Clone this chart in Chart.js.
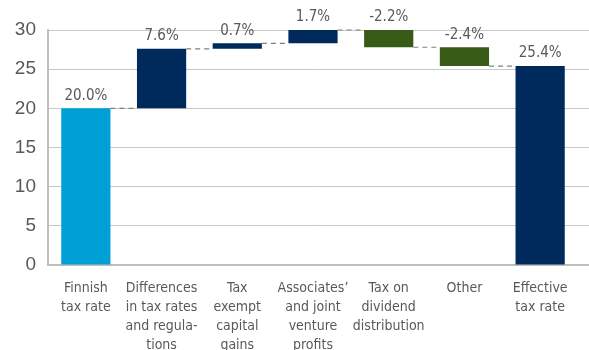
<!DOCTYPE html>
<html>
<head>
<meta charset="utf-8">
<script src="https://cdn.jsdelivr.net/npm/chart.js@4"></script>
<style>
  html, body { margin: 0; padding: 0; background: #fff; }
  #wrap { width: 589px; height: 350px; }
</style>
</head>
<body>
<div id="wrap"><canvas id="taxChart"></canvas></div>
<script>
const categories = [
  ['Finnish', 'tax rate'],
  ['Differences', 'in tax rates', 'and regula-', 'tions'],
  ['Tax', 'exempt', 'capital', 'gains'],
  ['Associates\u2019', 'and joint', 'venture', 'profits'],
  ['Tax on', 'dividend', 'distribution'],
  ['Other'],
  ['Effective', 'tax rate']
];
const changes = [20.0, 7.6, 0.7, 1.7, -2.2, -2.4, 25.4];
const isTotal = [true, false, false, false, false, false, true];
const yTicks = [0, 5, 10, 15, 20, 25, 30];

const colTotalStart = '#00a0d7';
const colUp = '#002a5c';
const colDown = '#375b17';
const font = '"Liberation Sans Narrow", "DejaVu Sans Condensed", "Liberation Sans", sans-serif';

// floating ranges from the running total
let running = 0;
const ranges = changes.map((v, i) => {
  if (isTotal[i]) { running = v; return [0, v]; }
  const start = running;
  running = +(running + v).toFixed(1);
  return [start, running];
});
const colors = changes.map((v, i) => i === 0 ? colTotalStart : (isTotal[i] ? colUp : (v < 0 ? colDown : colUp)));

const align = (p, w) => Math.round(p - w / 2) + w / 2;

const waterfallExtras = {
  id: 'waterfallExtras',
  beforeDatasetsDraw(chart) {
    const { ctx, chartArea, scales: { y } } = chart;
    // let the horizontal gridlines run to the canvas edge
    ctx.save();
    yTicks.forEach(t => {
      const w = t === 0 ? 2 : 1;
      ctx.strokeStyle = t === 0 ? '#bfbfbf' : '#c8c8c8';
      ctx.lineWidth = w;
      const py = align(y.getPixelForValue(t), w);
      ctx.beginPath();
      ctx.moveTo(chartArea.right - 1, py);
      ctx.lineTo(chart.width, py);
      ctx.stroke();
    });
    ctx.restore();
  },
  afterDatasetsDraw(chart) {
    const { ctx, scales: { y } } = chart;
    const bars = chart.getDatasetMeta(0).data;
    ctx.save();
    // dashed connectors
    ctx.strokeStyle = '#808080';
    ctx.lineWidth = 1.2;
    ctx.setLineDash([5, 4]);
    for (let i = 0; i < bars.length - 1; i++) {
      const level = ranges[i][1];
      const py = y.getPixelForValue(level);
      const x1 = bars[i].x + bars[i].width / 2;
      const x2 = bars[i + 1].x - bars[i + 1].width / 2;
      ctx.beginPath();
      ctx.moveTo(x1, py);
      ctx.lineTo(x2, py);
      ctx.stroke();
    }
    ctx.setLineDash([]);
    // value labels above each bar
    ctx.fillStyle = '#595959';
    ctx.font = '15px ' + font;
    ctx.textAlign = 'center';
    ctx.textBaseline = 'bottom';
    bars.forEach((b, i) => {
      const top = Math.max(ranges[i][0], ranges[i][1]);
      ctx.fillText(changes[i].toFixed(1) + '%', b.x, y.getPixelForValue(top) - 5);
    });
    ctx.restore();
  }
};

new Chart(document.getElementById('taxChart'), {
  type: 'bar',
  data: {
    labels: categories,
    datasets: [{
      data: ranges,
      backgroundColor: colors,
      borderWidth: 0,
      barPercentage: 0.65,
      categoryPercentage: 1.0
    }]
  },
  options: {
    responsive: true,
    maintainAspectRatio: false,
    animation: false,
    layout: { padding: { top: 30, right: 11, left: 0, bottom: 0 } },
    plugins: {
      legend: { display: false },
      tooltip: { enabled: false }
    },
    scales: {
      x: {
        grid: { display: false, drawTicks: false },
        border: { color: '#bfbfbf', width: 2 },
        ticks: {
          color: '#595959',
          padding: 14,
          maxRotation: 0,
          autoSkip: false,
          font: { family: font, size: 14, lineHeight: 1.36 }
        },
        afterFit: s => { s.height = 85; }
      },
      y: {
        min: 0,
        max: 30,
        grid: { color: '#c8c8c8', drawTicks: false },
        border: { color: '#bfbfbf', width: 2 },
        ticks: {
          stepSize: 5,
          color: '#595959',
          padding: 12,
          font: { family: '"Liberation Sans", Arial, sans-serif', size: 19 }
        },
        afterFit: s => { s.width = 48; }
      }
    }
  },
  plugins: [waterfallExtras]
});
</script>
</body>
</html>
